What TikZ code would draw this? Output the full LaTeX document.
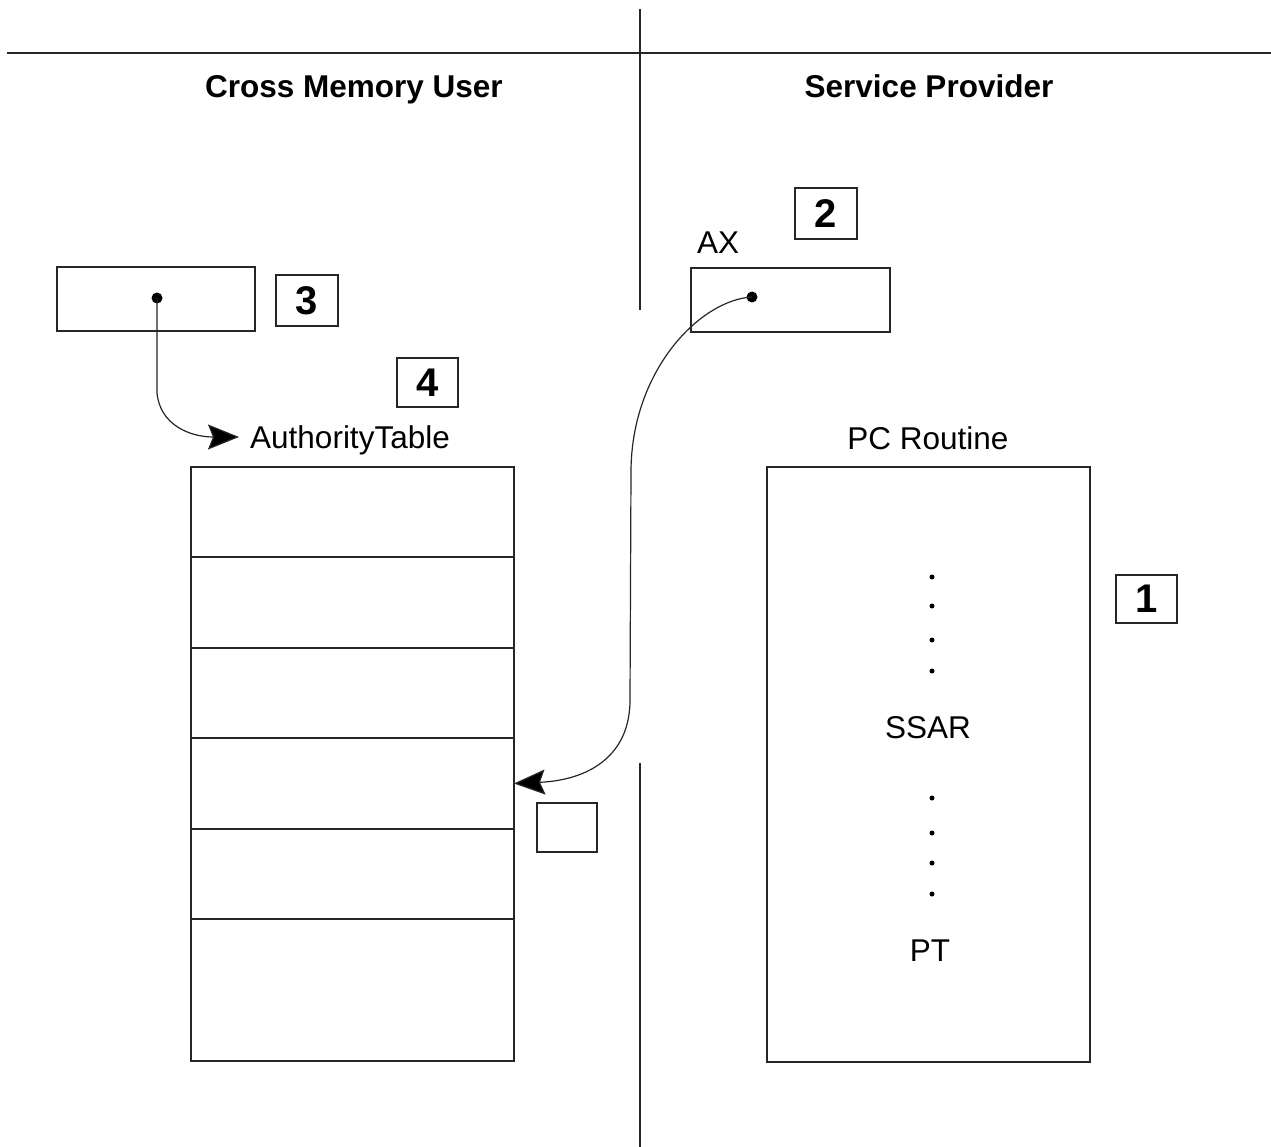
\documentclass[tikz,border=0pt]{standalone}
\usepackage{fontspec}
\setmainfont{Liberation Sans}
\usetikzlibrary{arrows.meta}
\begin{document}
\begin{tikzpicture}[x=1pt,y=-1pt,
  ln/.style={line width=1.4pt, draw=black!85},
  bx/.style={ln, draw, rectangle, inner sep=0pt, outer sep=0pt},
  numbox/.style={bx, font=\fontsize{40}{44}\selectfont\bfseries},
  head/.style={font=\fontsize{31.5}{36}\selectfont\bfseries, inner sep=0pt, anchor=base},
  lbl/.style={font=\fontsize{31.5}{36}\selectfont, inner sep=0pt},
  conn/.style={line width=1.2pt, draw=black!85},
  tip/.style={-{Stealth[length=31pt,width=25pt,inset=5pt,fill=black]}},
  pt/.style={circle, fill=black, inner sep=0pt, minimum size=11pt},
  sdot/.style={circle, fill=black, inner sep=0pt, minimum size=5pt}]
\useasboundingbox (0,0) rectangle (1271,1147);
\fill[white] (0,0) rectangle (1271,1147);
% dividers
\coordinate (hl) at (7,53);
\coordinate (hr) at (1271,53);
\coordinate (vt) at (640,9);
\coordinate (vm) at (640,310);
\coordinate (vb1) at (640,763);
\coordinate (vb2) at (640,1147);
\draw[ln] (hl) -- (hr);
\draw[ln] (vt) -- (vm);
\draw[ln] (vb1) -- (vb2);
% headings
\node[head] (cmu) at (354,98) {Cross Memory User};
\node[head] (sp) at (929,98) {Service Provider};
% left side
\node[bx, minimum width=198pt, minimum height=64pt] (b3) at (156,299) {};
\node[numbox, minimum width=62pt, minimum height=51pt] (n3) at (307,300.5) {3};
\node[numbox, minimum width=61pt, minimum height=49pt] (n4) at (427.5,382.5) {4};
\node[pt] (d3) at (157,298) {};
\node[lbl, anchor=base west] (at) at (250,448) {AuthorityTable};
\node[bx, minimum width=323pt, minimum height=90pt] (r1) at (352.5,512) {};
\node[bx, minimum width=323pt, minimum height=91pt] (r2) at (352.5,602.5) {};
\node[bx, minimum width=323pt, minimum height=90pt] (r3) at (352.5,693) {};
\node[bx, minimum width=323pt, minimum height=91pt] (r4) at (352.5,783.5) {};
\node[bx, minimum width=323pt, minimum height=90pt] (r5) at (352.5,874) {};
\node[bx, minimum width=323pt, minimum height=142pt] (r6) at (352.5,990) {};
\node[bx, minimum width=60pt, minimum height=49pt] (sb) at (567,827.5) {};
% right side
\node[numbox, minimum width=62pt, minimum height=51pt] (n2) at (826,213.5) {2};
\node[lbl, anchor=base west] (ax) at (697,254) {AX};
\node[bx, minimum width=199pt, minimum height=64pt] (axb) at (790.5,300) {};
\node[pt] (d2) at (752,297) {};
\node[lbl, anchor=base] (pcr) at (928,449) {PC Routine};
\node[bx, minimum width=323pt, minimum height=595pt] (pc) at (928.5,764.5) {};
\node[numbox, minimum width=61pt, minimum height=48pt] (n1) at (1146.5,599) {1};
\foreach \i/\y in {a/577,b/606,c/640,d/671,e/798,f/833,g/863,h/894}
  \node[sdot] (dot\i) at (932,\y) {};
\node[lbl] (ssar) at (928,728) {SSAR};
\node[lbl] (ptx) at (930,951) {PT};
% connectors
\coordinate (a3) at (157,393);
\coordinate (a3e) at (239,437);
\draw[conn, tip] (d3.center) -- (a3) .. controls (160,425) and (190,437) .. (a3e);
\coordinate (c1) at (631,470);
\coordinate (c2) at (630,700);
\draw[conn, tip] (d2.center) .. controls (700,300) and (632,370) .. (c1) -- (c2)
  .. controls (630,755) and (590,780) .. (r4.east);
\end{tikzpicture}
\end{document}
